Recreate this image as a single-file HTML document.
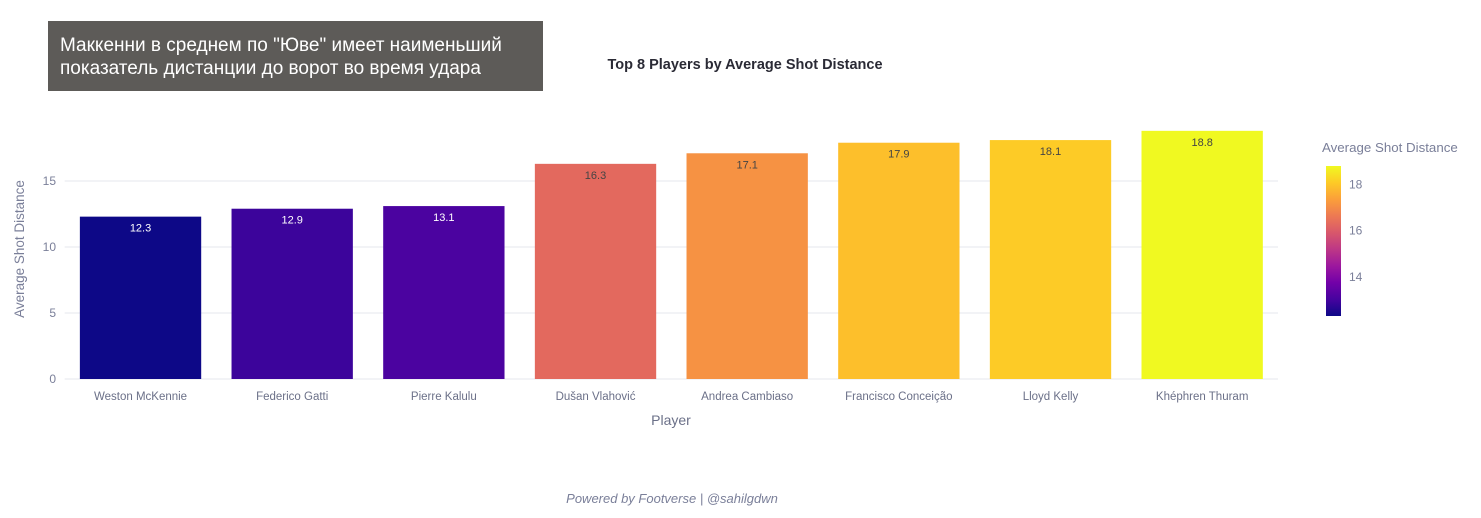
<!DOCTYPE html>
<html><head><meta charset="utf-8"><style>
body{margin:0;background:#fff;width:1481px;height:518px;overflow:hidden;font-family:"Liberation Sans","DejaVu Sans",sans-serif;}
#banner{position:absolute;left:48px;top:21px;width:495px;height:70px;background:#5d5b58;color:#fff;font-size:19px;line-height:23px;box-sizing:border-box;padding:13px 12px;}
</style></head><body>
<div id="banner">Маккенни в среднем по "Юве" имеет наименьший показатель дистанции до ворот во время удара</div>
<svg id="chart" width="1481" height="518" style="position:absolute;left:0;top:0"></svg>
<script>
const categories=["Weston McKennie","Federico Gatti","Pierre Kalulu","Dušan Vlahović","Andrea Cambiaso","Francisco Conceição","Lloyd Kelly","Khéphren Thuram"];
const values=[12.3,12.9,13.1,16.3,17.1,17.9,18.1,18.8];
const yTicks=[0,5,10,15];
const cbTicks=[14,16,18];
const NS="http://www.w3.org/2000/svg";
const svg=document.getElementById('chart');
function mk(t,a,txt){const e=document.createElementNS(NS,t);for(const k in a)e.setAttribute(k,a[k]);if(txt!==undefined)e.textContent=txt;svg.appendChild(e);return e;}
const L=64.7,R=1278,Y0=379,PX=13.2;
const band=(R-L)/categories.length;
const x=i=>L+band*i+band/2;
const y=v=>Y0-v*PX;
const vmin=Math.min(...values),vmax=Math.max(...values);
const stops=["#0d0887","#46039f","#7201a8","#9c179e","#bd3786","#d8576b","#ed7953","#fb9f3a","#fdca26","#f0f921"];
function plasma(t){t=Math.max(0,Math.min(1,t))*(stops.length-1);const i=Math.min(Math.floor(t),stops.length-2),f=t-i;
const a=stops[i],b=stops[i+1];const c=[1,3,5].map(k=>Math.round(parseInt(a.substr(k,2),16)*(1-f)+parseInt(b.substr(k,2),16)*f));return `rgb(${c})`;}
yTicks.forEach(v=>{
 const g=mk('line',{x1:L,x2:R,y1:y(v),y2:y(v),stroke:'#e5e7ee','stroke-width':1});
 
 const t=mk('text',{x:56,y:y(v)+4,'text-anchor':'end','font-size':12,fill:'#7a7f99'},v);
 
});
values.forEach((v,i)=>{
 const w=band*0.8;
 const b=mk('rect',{x:x(i)-w/2,y:y(v),width:w,height:v*PX,fill:plasma((v-vmin)/(vmax-vmin))});
 
 const t=mk('text',{x:x(i),y:y(v)+15,'text-anchor':'middle','font-size':11,fill:i<3?'#fff':'#444'},v.toFixed(1));
 
 const c=mk('text',{x:x(i),y:400,'text-anchor':'middle','font-size':11.5,fill:'#6b7088'},categories[i]);
 
});
let e;
e=mk('text',{x:671,y:425,'text-anchor':'middle','font-size':14,fill:'#6b7088'},'Player');
e=mk('text',{x:24,y:249,'text-anchor':'middle','font-size':13.5,fill:'#7a7f99',transform:'rotate(-90 24 249)'},'Average Shot Distance');
e=mk('text',{x:745,y:69,'text-anchor':'middle','font-size':14.5,'font-weight':'bold',fill:'#2a2a35'},'Top 8 Players by Average Shot Distance');
const defs=mk('defs',{});const gr=document.createElementNS(NS,'linearGradient');gr.setAttribute('id','cb');gr.setAttribute('x1',0);gr.setAttribute('y1',1);gr.setAttribute('x2',0);gr.setAttribute('y2',0);defs.appendChild(gr);
stops.forEach((s,i)=>{const st=document.createElementNS(NS,'stop');st.setAttribute('offset',i/(stops.length-1));st.setAttribute('stop-color',s);gr.appendChild(st);});
const CT=166,CB=316;const cy=v=>CB-(v-vmin)/(vmax-vmin)*(CB-CT);
e=mk('rect',{x:1326,y:CT,width:15,height:CB-CT,fill:'url(#cb)'});
cbTicks.forEach(v=>{const t=mk('text',{x:1349,y:cy(v)+4,'font-size':12,fill:'#7a7f99'},v);});
e=mk('text',{x:1322,y:152,'font-size':13.3,fill:'#7a7f99'},'Average Shot Distance');
e=mk('text',{x:672,y:503,'text-anchor':'middle','font-size':13,'font-style':'italic',fill:'#7a7f99'},'Powered by Footverse | @sahilgdwn');
</script>
</body></html>
